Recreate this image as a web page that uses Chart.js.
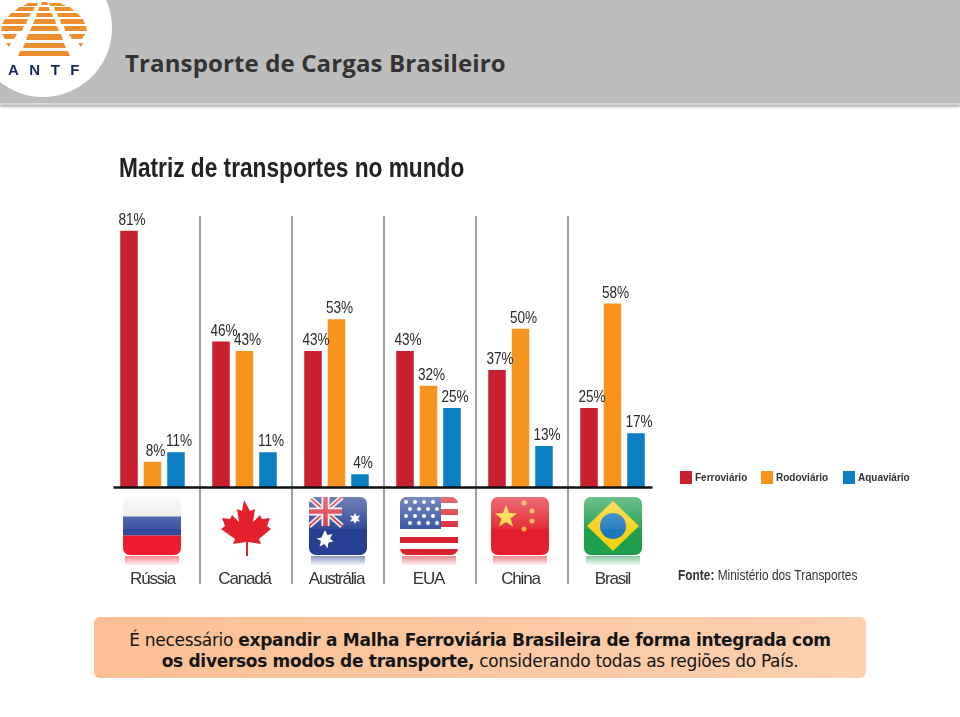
<!DOCTYPE html>
<html lang="pt">
<head>
<meta charset="utf-8">
<title>Transporte de Cargas Brasileiro</title>
<script src="https://cdn.jsdelivr.net/npm/chart.js@4/dist/chart.umd.min.js"></script>
<style>
html,body{margin:0;padding:0;background:#fff;width:960px;height:717px;overflow:hidden}
#page{position:relative;width:960px;height:717px}
#hdr{position:absolute;left:0;top:0;width:960px;height:103px;background:#bdbdbd;border-bottom:2px solid #d6d6d6;box-shadow:0 2px 2px #b5b5b5}
#logo{position:absolute;left:0;top:0;filter:blur(.4px)}
#hdrt{position:absolute;left:125px;top:48px;font:bold 24px/30px "Open Sans",sans-serif;color:#333;white-space:nowrap;letter-spacing:.13px}
canvas{position:absolute;left:0;top:0;filter:blur(.45px)}
#flags{position:absolute;left:0;top:0;filter:blur(.6px)}
#note{position:absolute;left:94px;top:617px;width:772px;height:61px;border-radius:6px;background:linear-gradient(90deg,#fbc093,#fdd0b0);color:#151515;text-align:center;font:17px/20.5px "DejaVu Sans",sans-serif;padding-top:13px;box-sizing:border-box;letter-spacing:-.3px}
</style>
</head>
<body>
<div id="page">
<div id="hdr"></div>
<svg id="logo" width="115" height="100" viewBox="0 0 115 100">
 <circle cx="43" cy="28" r="69" fill="#fff"/>
 <g fill="#ef8e2f">
  <path d="M18 56H70L68 51H20z"/><path d="M23 48H66L64 43H25z"/><path d="M26 40H63L61 34H28z"/>
  <path d="M30 31H59L57 26H32z"/><path d="M33 24H56L55 19H35z"/><path d="M36 17H53L52 13H37z"/><path d="M38 11H50L49 7H39z"/><path d="M41 5H48L47 2H42z"/>
  <path d="M1 31H22L24 26H2z"/><path d="M2 24H26L28 19H5z"/><path d="M8 17H29L31 13H11z"/><path d="M15 11H33L35 7H19z"/><path d="M23 6H37L38 3H28z"/>
  <path d="M64 26H86L87 31H65z"/><path d="M60 19H83L85 24H61z"/><path d="M57 13H77L81 17H58z"/><path d="M54 7H70L74 11H55z"/><path d="M49 3H60L66 6H50z"/>
  <path d="M2 34H17L14 39H5z"/><path d="M69 34H85L82 39H72z"/><path d="M6 43H11L9 47z"/><path d="M78 43H83L81 47z"/>
 </g>
 <text x="8" y="75" font-family="Liberation Sans" font-weight="bold" font-size="15" fill="#14285f" letter-spacing="10.500">ANTF</text>
</svg>
<div id="hdrt">Transporte de Cargas Brasileiro</div>
<canvas id="c" width="960" height="717"></canvas>
<svg id="flags" width="960" height="717" viewBox="0 0 960 717">
 <defs>
  <clipPath id="fr"><rect x="0" y="0" width="58" height="58" rx="7"/></clipPath>
  <linearGradient id="sh" x1="0" y1="0" x2="0" y2="1"><stop offset="0" stop-color="#fff" stop-opacity=".35"/><stop offset=".55" stop-color="#fff" stop-opacity=".06"/><stop offset=".56" stop-color="#fff" stop-opacity="0"/></linearGradient>
  <linearGradient id="ru" x1="0" y1="0" x2="0" y2="1"><stop offset="0" stop-color="#f4f4f4"/><stop offset="1" stop-color="#dcdcdc"/></linearGradient>
  <linearGradient id="rf" x1="0" y1="0" x2="0" y2="1"><stop offset="0" stop-color="#fff" stop-opacity=".45"/><stop offset="1" stop-color="#fff" stop-opacity="1"/></linearGradient>
 </defs>
 <g transform="translate(123,497)"><g clip-path="url(#fr)">
  <rect width="58" height="58" fill="url(#ru)"/><rect y="19.500" width="58" height="19" fill="#2f4a9c"/><rect y="38.500" width="58" height="20" fill="#ee1c2e"/>
 </g></g>
 <g transform="translate(215,497)">
  <path fill="#e3212c" d="M29 3l6 11 5-2-2 13 7-7 2 4 8-1-3 8 4 3-12 10 2 5-13-2v14h-2V45l-13 2 2-5L6 32l4-3-3-8 8 1 2-4 7 7-2-13 5 2z"/>
 </g>
 <g transform="translate(309,497)"><g clip-path="url(#fr)">
  <rect width="58" height="58" fill="#263f93"/>
  <path d="M0 0L33 29M33 0L0 29" stroke="#f3f3f3" stroke-width="5"/>
  <path d="M0 0L33 29M33 0L0 29" stroke="#d62b3c" stroke-width="2"/>
  <path d="M16.500 0V29M0 14.500H33" stroke="#f3f3f3" stroke-width="8"/>
  <path d="M16.500 0V29M0 14.500H33" stroke="#d62b3c" stroke-width="4.500"/>
  <path fill="#fff" d="M16 33l2.500 5 5-1-2.500 4.500 3.500 3-5 1-1 6-3-4.500-5 2.500 1.500-5.500-4.500-2.500 5-1z"/>
  <path fill="#fff" d="M46 16l1.500 3 3.500-.5-2 3 2 3-3.500-.5-1.500 3-1.500-3-3.500.5 2-3-2-3 3.500.5z"/>
 </g></g>
 <g transform="translate(400,497)"><g clip-path="url(#fr)">
  <rect width="58" height="58" fill="#fff"/>
  <g fill="#d8232f"><rect width="58" height="6"/><rect y="12" width="58" height="6"/><rect y="24" width="58" height="6"/><rect y="40" width="58" height="6"/><rect y="52" width="58" height="6"/></g>
  <rect width="41" height="32" fill="#2f4c9e"/>
  <g fill="#fff"><circle cx="6" cy="5" r="2"/><circle cx="15" cy="5" r="2"/><circle cx="24" cy="5" r="2"/><circle cx="33" cy="5" r="2"/><circle cx="10" cy="12" r="2"/><circle cx="19" cy="12" r="2"/><circle cx="28" cy="12" r="2"/><circle cx="37" cy="12" r="2"/><circle cx="6" cy="19" r="2"/><circle cx="15" cy="19" r="2"/><circle cx="24" cy="19" r="2"/><circle cx="33" cy="19" r="2"/><circle cx="10" cy="26" r="2"/><circle cx="19" cy="26" r="2"/><circle cx="28" cy="26" r="2"/><circle cx="37" cy="26" r="2"/></g>
 </g></g>
 <g transform="translate(491,497)"><g clip-path="url(#fr)">
  <rect width="58" height="58" fill="#e3202c"/>
  <path fill="#ffd83a" d="M15 8l3 8 8 .5-6.500 5 2.500 8-7-4.500-7 4.500 2.500-8L4 16.500l8-.5z"/>
  <g fill="#f0b43c"><circle cx="33" cy="6" r="2.500"/><circle cx="41" cy="14" r="2.500"/><circle cx="41" cy="24" r="2.500"/><circle cx="33" cy="32" r="2.500"/></g>
 </g></g>
 <g transform="translate(584,497)"><g clip-path="url(#fr)">
  <rect width="58" height="58" fill="#1f9e4d"/>
  <path fill="#f7d117" d="M29 4L55 29 29 54 3 29z"/>
  <circle cx="29" cy="29" r="13" fill="#1b78ba"/>
 </g></g>
 <g fill="url(#sh)"><rect x="123" y="497" width="58" height="58" rx="7"/><rect x="309" y="497" width="58" height="58" rx="7"/><rect x="400" y="497" width="58" height="58" rx="7"/><rect x="491" y="497" width="58" height="58" rx="7"/><rect x="584" y="497" width="58" height="58" rx="7"/></g>
 <rect x="125" y="556" width="54" height="9" fill="#ee1c2e"/><rect x="311" y="556" width="54" height="9" fill="#263f93"/><rect x="402" y="556" width="54" height="9" fill="#d8232f"/><rect x="493" y="556" width="54" height="9" fill="#e3202c"/><rect x="586" y="556" width="54" height="9" fill="#1f9e4d"/>
 <g fill="url(#rf)"><rect x="124" y="556" width="56" height="10"/><rect x="310" y="556" width="56" height="10"/><rect x="401" y="556" width="56" height="10"/><rect x="492" y="556" width="56" height="10"/><rect x="585" y="556" width="56" height="10"/></g>
</svg>
<div id="note">É necessário <b>expandir a Malha Ferroviária Brasileira de forma integrada com<br>os diversos modos de transporte,</b> considerando todas as regiões do País.</div>
</div>
<script>
const categories = ["Rússia","Canadá","Austrália","EUA","China","Brasil"];
const ferroviario = [81,46,43,43,37,25];
const rodoviario = [8,43,53,32,50,58];
const aquaviario = [11,11,4,25,13,17];
const seriesNames = ["Ferroviário","Rodoviário","Aquaviário"];
const seriesColors = ["#c8202f","#f7941d","#0a7fc4"];
const chartTitle = "Matriz de transportes no mundo";
const sourceBold = "Fonte:";
const sourceText = "Ministério dos Transportes";
const FONT = '"Liberation Sans",sans-serif';

function squeezed(ctx,text,x,y,sx){
  ctx.save();ctx.translate(x,y);ctx.scale(sx,1);ctx.fillText(text,0,0);ctx.restore();
}

const decor = {
  id:'decor',
  beforeDraw(chart){ chart.ctx.letterSpacing='-1.2px'; },
  beforeDatasetsDraw(chart){
    const {ctx,scales:{x}} = chart;
    ctx.save();
    ctx.strokeStyle='#a0a0a0'; ctx.lineWidth=2;
    for(let i=1;i<categories.length;i++){
      const px=(x.getPixelForTick(i-1)+x.getPixelForTick(i))/2+1.5;
      ctx.beginPath();ctx.moveTo(px,216);ctx.lineTo(px,584);ctx.stroke();
    }
    ctx.restore();
  },
  afterDatasetsDraw(chart){
    const {ctx,scales:{x,y}} = chart;
    ctx.save();
    ctx.letterSpacing='0px';
    ctx.strokeStyle='#111'; ctx.lineWidth=2.4;
    ctx.beginPath();ctx.moveTo(x.left+7,y.getPixelForValue(0)+.5);ctx.lineTo(x.right-6,y.getPixelForValue(0)+.5);ctx.stroke();
    ctx.textAlign='center';ctx.textBaseline='alphabetic';ctx.fillStyle='#2a2a2a';
    ctx.font='17px '+FONT;
    chart.data.datasets.forEach((ds,d)=>{
      chart.getDatasetMeta(d).data.forEach((bar,i)=>{
        squeezed(ctx,ds.data[i]+'%',bar.x+3,bar.y-6,.8);
      });
    });
    ctx.textAlign='left';ctx.fillStyle='#222';
    ctx.font='bold 28px '+FONT;
    squeezed(ctx,chartTitle,119,177,.81);
    const lx=[680,761,843];
    ctx.font='bold 10px '+FONT;
    chart.data.datasets.forEach((ds,d)=>{
      ctx.fillStyle=ds.backgroundColor;ctx.fillRect(lx[d],471,12,13);
      ctx.fillStyle='#333';ctx.fillText(ds.label,lx[d]+15,481);
    });
    ctx.font='bold 14px '+FONT;ctx.fillStyle='#333';
    squeezed(ctx,sourceBold,678,580,.85);
    const w=ctx.measureText(sourceBold+' ').width*.85;
    ctx.font='14px '+FONT;
    squeezed(ctx,sourceText,678+w,580,.85);
    ctx.restore();
  }
};

new Chart(document.getElementById('c'),{
  type:'bar',
  data:{labels:categories,datasets:[
    {label:seriesNames[0],data:ferroviario,backgroundColor:seriesColors[0]},
    {label:seriesNames[1],data:rodoviario,backgroundColor:seriesColors[1]},
    {label:seriesNames[2],data:aquaviario,backgroundColor:seriesColors[2]}
  ]},
  plugins:[decor],
  options:{
    responsive:false,animation:false,
    layout:{padding:{left:106.5,right:301.5,top:215,bottom:0}},
    datasets:{bar:{categoryPercentage:.766,barPercentage:.745}},
    plugins:{legend:{display:false},title:{display:false},tooltip:{enabled:false}},
    scales:{
      x:{grid:{display:false},border:{display:false},
        afterFit(s){s.height=230;},
        ticks:{color:'#333',font:{family:FONT,size:17},padding:74,maxRotation:0}},
      y:{display:false,min:0,max:86}
    }
  }
});
</script>
</body>
</html>
